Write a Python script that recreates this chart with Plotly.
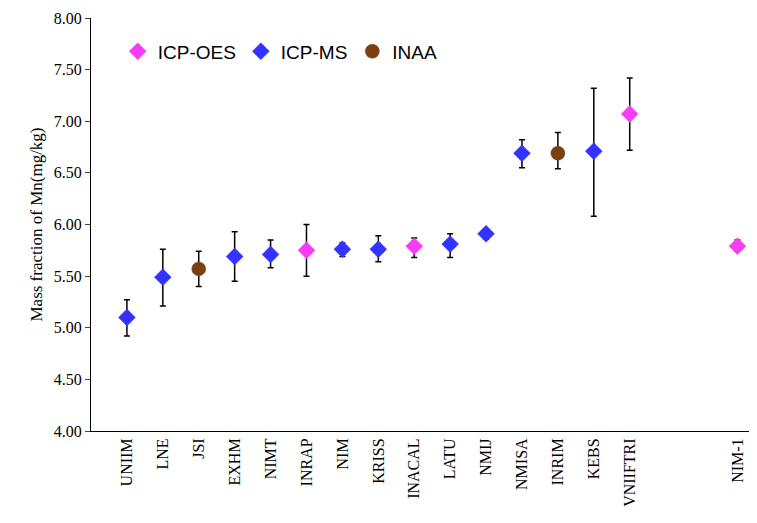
import plotly.graph_objects as go

labs = ["UNIIM","LNE","JSI","EXHM","NIMT","INRAP","NIM","KRISS","INACAL","LATU","NMIJ","NMISA","INRIM","KEBS","VNIIFTRI","NIM-1"]
xpos = [0,1,2,3,4,5,6,7,8,9,10,11,12,13,14,17]
vals = [5.10,5.49,5.57,5.69,5.71,5.75,5.76,5.76,5.79,5.81,5.91,6.69,6.69,6.71,7.07,5.79]
hi = [5.27,5.76,5.74,5.93,5.85,6.00,5.82,5.89,5.87,5.91,5.96,6.82,6.89,7.32,7.42,5.85]
lo = [4.92,5.21,5.40,5.45,5.58,5.50,5.69,5.64,5.68,5.68,5.86,6.55,6.54,6.08,6.72,5.74]
meth = ["MS","MS","INAA","MS","MS","OES","MS","MS","OES","MS","MS","MS","INAA","MS","OES","OES"]

styles = {"OES":("ICP-OES","#F53DF5","diamond",13),"MS":("ICP-MS","#3333FF","diamond",13),"INAA":("INAA","#7B3F10","circle",14)}
fig = go.Figure()
fig.add_trace(go.Scatter(x=xpos, y=vals, mode="markers", marker=dict(size=1,color="rgba(0,0,0,0)"),
    error_y=dict(type="data", symmetric=False, array=[h-v for h,v in zip(hi,vals)],
                 arrayminus=[v-l for v,l in zip(vals,lo)], color="black", thickness=1.5, width=3),
    showlegend=False))
for m in ["OES","MS","INAA"]:
    name,c,s,sz = styles[m]
    idx=[i for i,mm in enumerate(meth) if mm==m]
    fig.add_trace(go.Scatter(x=[xpos[i] for i in idx], y=[vals[i] for i in idx], mode="markers", name=name,
        marker=dict(color=c, symbol=s, size=sz, line=dict(color="#555" if m=="INAA" else c, width=0.5))))
fig.update_layout(width=757,height=523,margin=dict(l=83,r=6,t=10,b=100),plot_bgcolor="white",paper_bgcolor="white",
    legend=dict(orientation="h",x=0.04,y=0.965,itemwidth=30,font=dict(family="Liberation Sans",size=19,color="black"),bgcolor="rgba(0,0,0,0)"),
    font=dict(family="Liberation Serif",color="black"))
fig.update_xaxes(range=[-1,17.6],tickvals=xpos,ticktext=labs,tickangle=-90,showline=True,linecolor="black",
    ticks="",tickfont=dict(size=16),showgrid=False,zeroline=False,automargin=False)
fig.update_yaxes(range=[4,8],dtick=0.5,tickformat=".2f",showline=True,linecolor="black",ticks="outside",
    tickfont=dict(size=16),showgrid=False,zeroline=False,automargin=False,
    title=dict(text="Mass fraction of Mn(mg/kg)",font=dict(size=17),standoff=6))
fig.write_html("out.html")
